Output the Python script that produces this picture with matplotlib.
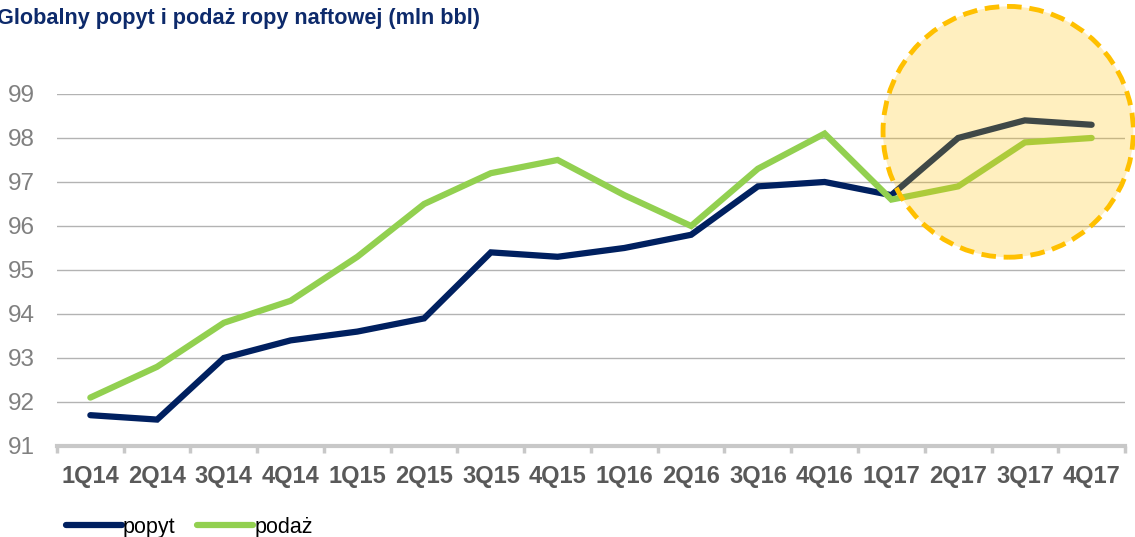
import numpy as np
import matplotlib
matplotlib.use('Agg')
import matplotlib.pyplot as plt
from matplotlib.patches import Ellipse
from matplotlib.lines import Line2D

plt.rcParams['font.family'] = ['Liberation Sans', 'DejaVu Sans']

# data
quarters = ['1Q14', '2Q14', '3Q14', '4Q14', '1Q15', '2Q15', '3Q15', '4Q15',
            '1Q16', '2Q16', '3Q16', '4Q16', '1Q17', '2Q17', '3Q17', '4Q17']
popyt = [91.7, 91.6, 93.0, 93.4, 93.6, 93.9, 95.4, 95.3,
         95.5, 95.8, 96.9, 97.0, 96.7, 98.0, 98.4, 98.3]
podaz = [92.1, 92.8, 93.8, 94.3, 95.3, 96.5, 97.2, 97.5,
         96.7, 96.0, 97.3, 98.1, 96.6, 96.9, 97.9, 98.0]
yticks = [91, 92, 93, 94, 95, 96, 97, 98, 99]

navy = '#002060'
green = '#92d050'

fig = plt.figure(figsize=(11.35, 5.37), dpi=100)
ax = fig.add_axes([0.0502, 0.1695, 0.9410, 0.6555])

x = np.arange(len(quarters))
ax.plot(x, popyt, color=navy, lw=4.5, solid_capstyle='round', solid_joinstyle='miter', zorder=3)
ax.plot(x, podaz, color=green, lw=4.5, solid_capstyle='round', solid_joinstyle='miter', zorder=3)

ax.set_xlim(-0.5, len(quarters) - 0.5)
ax.set_ylim(91, 99)

ax.set_yticks(yticks)
ax.set_yticklabels([str(v) for v in yticks], fontsize=17.5, color='#808080')
ax.tick_params(axis='y', length=0, pad=16)
ax.yaxis.grid(True, color='#b3b3b3', lw=1)
ax.set_axisbelow(True)

ax.set_xticks(x)
ax.set_xticklabels(quarters, fontsize=17, fontweight='bold', color='#595959')
ax.set_xticks(np.arange(len(quarters) + 1) - 0.5, minor=True)
ax.tick_params(axis='x', which='major', length=0, pad=14)
ax.tick_params(axis='x', which='minor', length=5, width=2.5, color='#c8c8c8', direction='out')

for s in ['top', 'right', 'left']:
    ax.spines[s].set_visible(False)
ax.spines['bottom'].set_color('#c8c8c8')
ax.spines['bottom'].set_linewidth(3)

# highlight circle over the 2017 forecast
circ = Ellipse((13.75, 98.14), width=3.75, height=5.7, facecolor='#ffc000', alpha=0.25,
               edgecolor='none', clip_on=False, zorder=5)
ax.add_patch(circ)
ring = Ellipse((13.75, 98.14), width=3.75, height=5.7, facecolor='none', edgecolor='#ffc000',
               lw=3.5, linestyle=(0, (3, 1.6)), clip_on=False, zorder=6)
ax.add_patch(ring)

fig.text(-0.003, 0.965, 'Globalny popyt i podaż ropy naftowej (mln bbl)', fontsize=15.6,
         fontweight='bold', color='#0d2a6b', ha='left', va='center')

handles = [Line2D([], [], color=navy, lw=4.5, solid_capstyle='round'),
           Line2D([], [], color=green, lw=4.5, solid_capstyle='round')]
fig.legend(handles, ['popyt', 'podaż'], loc='center left', bbox_to_anchor=(0.058, 0.018),
           ncol=2, frameon=False, fontsize=15.5, handlelength=2.6, handletextpad=0.05,
           columnspacing=1.0, borderaxespad=0, borderpad=0)

fig.savefig('out.png', dpi=100)
